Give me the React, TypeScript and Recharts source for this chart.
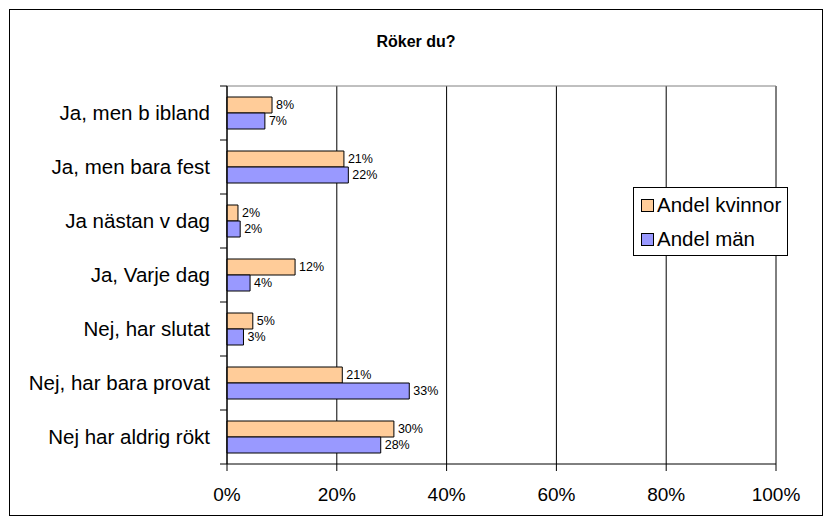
import { BarChart, Bar, XAxis, YAxis, CartesianGrid, LabelList, ReferenceLine } from "recharts";

const categories = [
  "Ja, men b ibland",
  "Ja, men bara fest",
  "Ja nästan v dag",
  "Ja, Varje dag",
  "Nej, har slutat",
  "Nej, har bara provat",
  "Nej har aldrig rökt",
];
const kvinnor = [8.2, 21.3, 2.0, 12.4, 4.7, 21.0, 30.4];
const man = [6.9, 22.1, 2.4, 4.2, 3.0, 33.2, 28.0];
const xTicks = [0, 20, 40, 60, 80, 100];
const seriesNames = ["Andel kvinnor", "Andel män"];
const colors = ["#FFCC99", "#9999FF"];

const data = categories.map((c, i) => ({ category: c, kvinnor: kvinnor[i], man: man[i] }));

const FONT = "'Liberation Sans', Arial, sans-serif";
const PLOT_LEFT = 227;
const PLOT_TOP = 86;
const PLOT_H = 378;
const Y_AXIS_W = 200;
const X_AXIS_H = 40;
const BAND = PLOT_H / categories.length;

function CategoryTick(props: any) {
  const { y, payload, index } = props;
  const half = BAND / 2;
  return (
    <g>
      <line x1={PLOT_LEFT - 7} x2={PLOT_LEFT} y1={y - half} y2={y - half} stroke="#000" />
      {index === categories.length - 1 && (
        <line x1={PLOT_LEFT - 7} x2={PLOT_LEFT} y1={y + half} y2={y + half} stroke="#000" />
      )}
      <text
        x={PLOT_LEFT - 17}
        y={y}
        dy="0.35em"
        textAnchor="end"
        fontSize={20.5}
        fontFamily={FONT}
        fill="#000"
      >
        {payload.value}
      </text>
    </g>
  );
}

const pct = (v: any) => `${Math.round(Number(v))}%`;

export default function App() {
  return (
    <div style={{ position: "absolute", left: 0, top: 0, width: 833, height: 526, background: "#fff", fontFamily: FONT }}>
      {/* frame */}
      <div
        style={{
          position: "absolute",
          left: 9,
          top: 9,
          width: 814,
          height: 507,
          border: "1px solid #000",
          boxSizing: "border-box",
        }}
      />
      {/* title */}
      <div
        style={{
          position: "absolute",
          left: 9,
          width: 814,
          top: 32,
          textAlign: "center",
          fontSize: 16,
          fontWeight: "bold",
          lineHeight: "20px",
          color: "#000",
        }}
      >
        Röker du?
      </div>

      <div style={{ position: "absolute", left: 0, top: 0 }}>
        <BarChart
          width={833}
          height={526}
          data={data}
          layout="vertical"
          barSize={16}
          barGap={0}
          margin={{ top: PLOT_TOP, right: 57, bottom: 526 - PLOT_TOP - PLOT_H - X_AXIS_H, left: PLOT_LEFT - Y_AXIS_W }}
        >
          <CartesianGrid horizontal={false} stroke="#000" />
          <CartesianGrid vertical={false} horizontalPoints={[PLOT_TOP]} stroke="#808080" />
          <ReferenceLine x={100} stroke="#808080" />
          <XAxis
            type="number"
            domain={[0, 100]}
            ticks={xTicks}
            interval={0}
            tickFormatter={(v) => `${v}%`}
            height={X_AXIS_H}
            tickSize={7}
            tickMargin={17}
            axisLine={{ stroke: "#000" }}
            tickLine={{ stroke: "#000" }}
            tick={{ fontSize: 19, fill: "#000", fontFamily: FONT }}
          />
          <YAxis
            type="category"
            dataKey="category"
            width={Y_AXIS_W}
            interval={0}
            axisLine={{ stroke: "#000" }}
            tickLine={false}
            tick={<CategoryTick />}
          />
          <Bar dataKey="kvinnor" name={seriesNames[0]} fill={colors[0]} stroke="#000" strokeWidth={1} isAnimationActive={false}>
            <LabelList dataKey="kvinnor" position="right" offset={4} formatter={pct} fill="#000" fontSize={12.5} fontFamily={FONT} />
          </Bar>
          <Bar dataKey="man" name={seriesNames[1]} fill={colors[1]} stroke="#000" strokeWidth={1} isAnimationActive={false}>
            <LabelList dataKey="man" position="right" offset={4} formatter={pct} fill="#000" fontSize={12.5} fontFamily={FONT} />
          </Bar>
        </BarChart>
      </div>

      {/* legend */}
      <div
        style={{
          position: "absolute",
          left: 633,
          top: 187,
          width: 155,
          height: 69,
          border: "1px solid #000",
          boxSizing: "border-box",
          background: "#fff",
          paddingTop: 3,
        }}
      >
        {seriesNames.map((name, i) => (
          <div key={name} style={{ display: "flex", alignItems: "center", height: 28, marginBottom: 6, paddingLeft: 7 }}>
            <span
              style={{
                display: "inline-block",
                width: 11,
                height: 11,
                background: colors[i],
                border: "1px solid #000",
                marginRight: 3,
              }}
            />
            <span style={{ fontSize: 20.5, color: "#000", whiteSpace: "nowrap" }}>{name}</span>
          </div>
        ))}
      </div>
    </div>
  );
}
